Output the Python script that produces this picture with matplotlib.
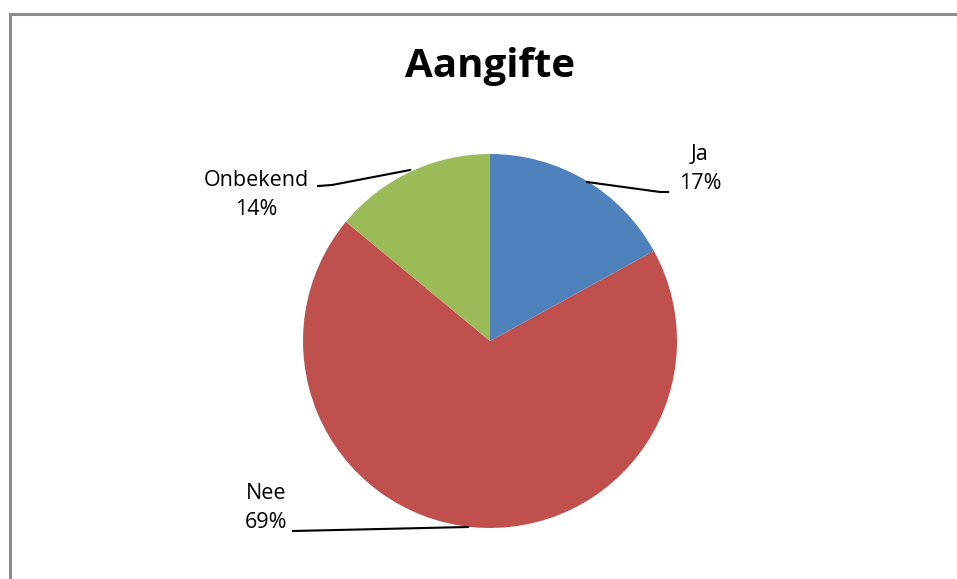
import matplotlib.pyplot as plt
from matplotlib.patches import Rectangle

# data
labels = ["Ja", "Nee", "Onbekend"]
values = [17, 69, 14]
colors = ["#4F81BD", "#C0504D", "#9BBB59"]

W, H = 957, 579

fig = plt.figure(figsize=(W / 100, H / 100), dpi=100)
ax = fig.add_axes([0, 0, 1, 1])

# chart border (cut off at right/bottom as in original)
fig.patches.append(Rectangle((9.5 / W, -0.1), 1.2, (H - 13.5) / H + 0.1,
                             transform=fig.transFigure, fill=False,
                             edgecolor="#8c8c8c", linewidth=2.2))

cx, cy, r = 490, H - 341, 187
ax.pie(values, colors=colors, startangle=90, counterclock=False,
       center=(cx, cy), radius=r, frame=True,
       wedgeprops=dict(linewidth=0))
ax.set_xlim(0, W)
ax.set_ylim(0, H)
ax.set_aspect("equal")
ax.axis("off")

fnt = "Open Sans"
ax.text(cx, H - 66, "Aangifte", ha="center", va="center",
        fontsize=29, fontweight="bold", family=fnt)

# labels with leader lines
txt = [f"{l}\n{v}%" for l, v in zip(labels, values)]
kw = dict(ha="center", va="center", fontsize=15.5, family=fnt,
          linespacing=1.45)
ax.text(700, H - 169, txt[0], **kw)
ax.plot([587, 660, 668], [H - 182, H - 192, H - 192], color="black", lw=1.5)

ax.text(266, H - 508, txt[1], **kw)
ax.plot([293, 468], [H - 531, H - 527], color="black", lw=1.5)

ax.text(256, H - 195, txt[2], **kw)
ax.plot([318, 332, 410], [H - 186, H - 185, H - 170], color="black", lw=1.5)

fig.savefig("out.png", dpi=100)
